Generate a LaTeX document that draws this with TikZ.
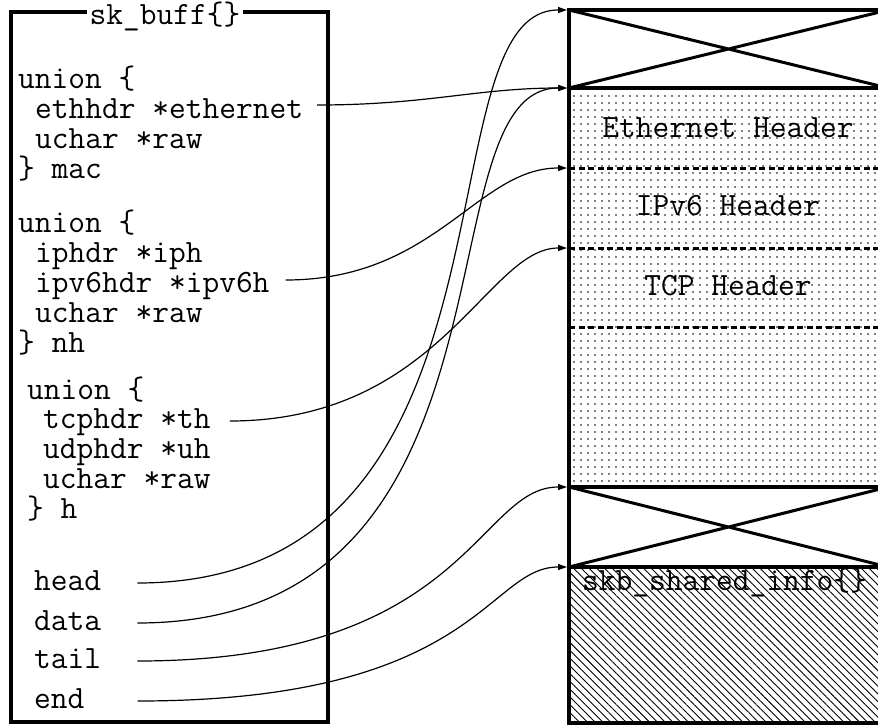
\documentclass[tikz,border=0pt]{standalone}
\usetikzlibrary{arrows.meta,patterns.meta}
\newcommand{\codefont}{\fontsize{32.5}{39}\selectfont\ttfamily}

\begin{document}
\begin{tikzpicture}[x=1pt, y=-1pt,
  field/.style={anchor=base west, inner sep=0pt, font=\codefont,
    text height=20pt, text depth=6pt},
  label/.style={anchor=base, inner sep=0pt, font=\codefont},
  frame/.style={line width=4.5pt},
  sepline/.style={line width=3.5pt},
  gapline/.style={line width=3pt, dash pattern=on 6pt off 3.5pt},
  cross/.style={line width=3pt},
  arr/.style={-{Triangle[length=9pt,width=6pt]}, line width=1.2pt}
]
  \useasboundingbox (0,0) rectangle (878,726);
  \clip (0,0) rectangle (878,726);

  % right: buffer
  \fill[pattern={Dots[distance=7pt,radius=0.9pt]}] (569,88) rectangle (888,487);
  \fill[pattern={Lines[angle=-45,distance=5.5pt,line width=0.9pt]}] (569,567) rectangle (888,723);
  \draw[cross] (569,10) -- (888,88) (569,88) -- (888,10);
  \draw[cross] (569,487) -- (888,567) (569,567) -- (888,487);
  \draw[gapline] (569,168) -- (888,168);
  \draw[gapline] (569,248) -- (888,248);
  \draw[gapline] (569,327) -- (888,327);
  \draw[sepline] (569,10) -- (888,10);
  \draw[sepline] (569,88) -- (888,88);
  \draw[sepline] (569,487) -- (888,487);
  \draw[sepline] (569,567) -- (888,567);
  \draw[sepline] (569,723) -- (888,723);
  \draw[frame] (569,8) -- (569,725);

  \node[label] (ethhdr) at (728,137) {Ethernet Header};
  \node[label] (ip6hdr) at (728,215) {IPv6 Header};
  \node[label] (tcphdr) at (728,295) {TCP Header};
  \node[anchor=base west, inner sep=0pt, font=\codefont] (shinfo) at (582,590) {skb\_shared\_info\{\}};

  \coordinate (m-top) at (567,10);
  \coordinate (m-eth) at (567,88);
  \coordinate (m-ip) at (567,168);
  \coordinate (m-tcp) at (567,248);
  \coordinate (m-tail) at (567,487);
  \coordinate (m-end) at (567,567);

  % left: sk_buff
  \draw[frame] (11,12) rectangle (328,722);
  \node[label, fill=white, inner xsep=3pt] (title) at (165,24) {sk\_buff\{\}};

  \node[field] (u1) at (18,88) {union \{};
  \node[field] (eth) at (35,118) {ethhdr *ethernet};
  \node[field] (raw1) at (35,148) {uchar *raw};
  \node[field] (mac) at (18,178) {\} mac};

  \node[field] (u2) at (18,232) {union \{};
  \node[field] (iph) at (35,262) {iphdr *iph};
  \node[field] (ipv6) at (35,292) {ipv6hdr *ipv6h};
  \node[field] (raw2) at (35,322) {uchar *raw};
  \node[field] (nh) at (18,352) {\} nh};

  \node[field] (u3) at (27,399) {union \{};
  \node[field] (th) at (43,428) {tcphdr *th};
  \node[field] (uh) at (43,458) {udphdr *uh};
  \node[field] (raw3) at (43,488) {uchar *raw};
  \node[field] (h) at (27,518) {\} h};

  \node[field] (head) at (34,590) {head};
  \node[field] (data) at (34,630) {data};
  \node[field] (tail) at (34,668) {tail};
  \node[field] (end) at (34,708) {end};

  \draw[arr] ([xshift=14pt,yshift=6pt]eth.east) .. controls +(110,0) and +(-90,0) .. (m-eth);
  \draw[arr] ([xshift=16pt,yshift=5pt]ipv6.east) .. controls +(150,0) and +(-90,0) .. (m-ip);
  \draw[arr] ([xshift=19pt]th.east) .. controls +(210,0) and +(-80,0) .. (m-tcp);
  \draw[arr] ([xshift=36pt]head.east) .. controls +(400,0) and +(-150,0) .. (m-top);
  \draw[arr] ([xshift=36pt]data.east) .. controls +(400,0) and +(-150,0) .. (m-eth);
  \draw[arr] ([xshift=36pt]tail.east) .. controls +(330,0) and +(-90,0) .. (m-tail);
  \draw[arr] ([xshift=53pt]end.east) .. controls +(340,0) and +(-80,0) .. (m-end);
\end{tikzpicture}
\end{document}
